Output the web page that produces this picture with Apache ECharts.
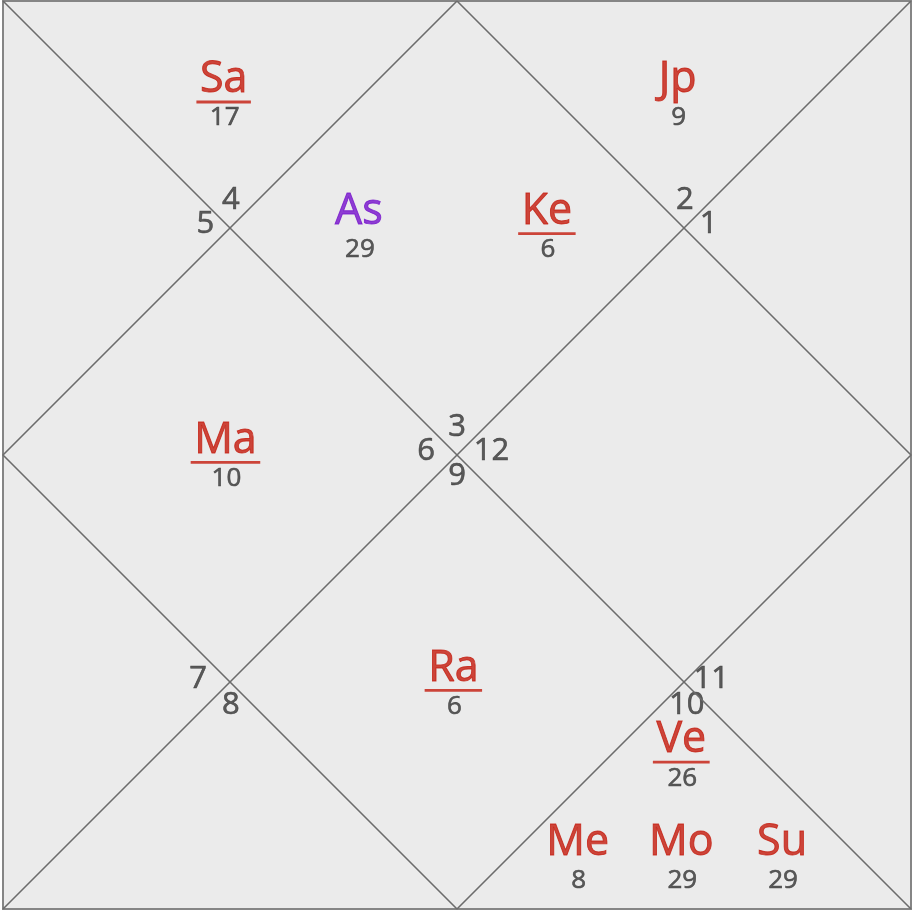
<!DOCTYPE html>
<html>
<head>
<meta charset="utf-8">
<style>
  html, body { margin: 0; padding: 0; background: #fff; }
  #chart { width: 913px; height: 911px; }
</style>
<script src="https://cdn.jsdelivr.net/npm/echarts@6/dist/echarts.min.js"></script>
</head>
<body>
<div id="chart"></div>
<script>
// 行星 (名称 / 度数 / 位置, 坐标系 0~100)
const planets    = ['Sa', 'Jp', 'As', 'Ke', 'Ma', 'Ra', 'Ve', 'Me', 'Mo', 'Su'];
const degrees    = [17, 9, 29, 6, 10, 6, 26, 8, 29, 29];
const planetX    = [24.3, 74.3, 39.2, 59.9, 24.5, 49.6, 74.7, 63.3, 74.7, 85.8];
const planetY    = [8.7, 8.7, 23.2, 23.2, 48.4, 73.5, 81.4, 92.7, 92.7, 92.7];
const underlined = [true, false, false, true, true, true, true, false, false, false];

// 宫位编号
const houseNums = [4, 5, 2, 1, 3, 6, 12, 9, 7, 8, 11, 10];
const houseX    = [25.1, 22.3, 75.1, 77.7, 50.0, 46.6, 53.8, 50.0, 21.5, 25.1, 78.0, 75.3];
const houseY    = [21.9, 24.6, 21.9, 24.6, 46.9, 49.6, 49.6, 52.3, 74.7, 77.5, 74.7, 77.5];

// 分割线: 两条对角线 + 菱形
const chartLines = [
  [[0, 0], [100, 100]],
  [[100, 0], [0, 100]],
  [[50, 0], [100, 50], [50, 100], [0, 50], [50, 0]]
];

const RED = '#c41a0c';
const PURPLE = '#7612cc';
const GREY = '#353535';
const FONT = '"Open Sans", "Noto Sans", sans-serif';
const NAME_SIZE = 43;

// 计算文字宽度 (下划线用)
const ctx = document.createElement('canvas').getContext('2d');
function textWidth(str, size) {
  ctx.font = size + 'px ' + FONT;
  return ctx.measureText(str).width;
}

function planetColor(name) {
  return name === 'As' ? PURPLE : RED;
}

const series = [];

// 线
for (const pts of chartLines) {
  series.push({
    type: 'line',
    data: pts,
    symbol: 'none',
    silent: true,
    lineStyle: { color: '#6c6c6c', width: 1.6 }
  });
}

// 行星名称 (描边加粗一点)
series.push({
  type: 'scatter',
  symbolSize: 1,
  itemStyle: { color: 'rgba(0,0,0,0)' },
  data: planets.map((p, i) => ({
    value: [planetX[i], planetY[i]],
    name: p,
    label: { color: planetColor(p), textBorderColor: planetColor(p) }
  })),
  label: {
    show: true,
    position: 'inside',
    formatter: '{b}',
    fontSize: NAME_SIZE,
    textBorderWidth: 0.9,
    fontFamily: FONT
  }
});

// 下划线
const ulData = [];
planets.forEach((p, i) => {
  if (!underlined[i]) return;
  ulData.push({
    value: [planetX[i], planetY[i]],
    symbolSize: [textWidth(p, NAME_SIZE) + 7, 2.8],
    itemStyle: { color: planetColor(p) }
  });
});
series.push({
  type: 'scatter',
  symbol: 'rect',
  symbolOffset: [0, 22],
  data: ulData
});

// 度数
series.push({
  type: 'scatter',
  symbolSize: 1,
  itemStyle: { color: 'rgba(0,0,0,0)' },
  data: degrees.map((d, i) => ({ value: [planetX[i], planetY[i]], name: String(d) })),
  label: {
    show: true,
    position: 'inside',
    offset: [1, 38],
    formatter: '{b}',
    fontSize: 26,
    color: GREY,
    textBorderColor: GREY,
    textBorderWidth: 0.6,
    fontFamily: FONT
  }
});

// 宫位编号
series.push({
  type: 'scatter',
  symbolSize: 1,
  itemStyle: { color: 'rgba(0,0,0,0)' },
  data: houseNums.map((h, i) => ({ value: [houseX[i], houseY[i]], name: String(h) })),
  label: {
    show: true,
    position: 'inside',
    formatter: '{b}',
    fontSize: 31,
    color: GREY,
    textBorderColor: GREY,
    textBorderWidth: 0.6,
    fontFamily: FONT
  }
});

const chart = echarts.init(document.getElementById('chart'));
chart.setOption({
  animation: false,
  grid: {
    show: true,
    left: 3, top: 1, right: 2, bottom: 2,
    backgroundColor: '#ebebeb',
    borderColor: '#858585',
    borderWidth: 2
  },
  xAxis: { type: 'value', min: 0, max: 100, show: false },
  yAxis: { type: 'value', min: 0, max: 100, inverse: true, show: false },
  series: series
});
</script>
</body>
</html>
